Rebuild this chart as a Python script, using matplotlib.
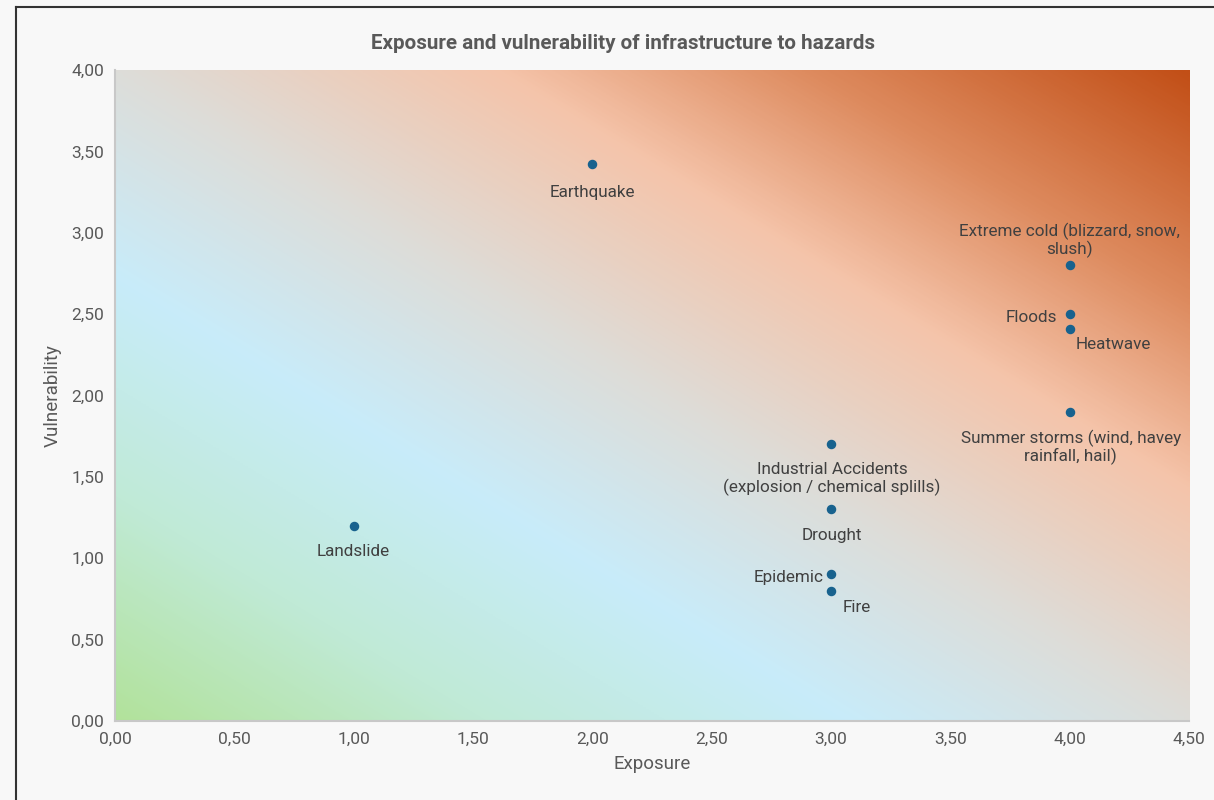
import numpy as np
import matplotlib.pyplot as plt
from matplotlib.colors import LinearSegmentedColormap
from matplotlib.lines import Line2D

plt.rcParams['font.family'] = ['Roboto', 'DejaVu Sans']

# data
hazards = ['Landslide', 'Earthquake', 'Extreme cold (blizzard, snow,\nslush)', 'Floods',
           'Heatwave', 'Summer storms (wind, havey\nrainfall, hail)',
           'Industrial Accidents\n(explosion / chemical splills)', 'Drought', 'Epidemic', 'Fire']
exposure = [1.0, 2.0, 4.0, 4.0, 4.0, 4.0, 3.0, 3.0, 3.0, 3.0]
vulnerability = [1.2, 3.42, 2.8, 2.5, 2.41, 1.9, 1.7, 1.3, 0.9, 0.8]

x_ticks = [0, 0.5, 1, 1.5, 2, 2.5, 3, 3.5, 4, 4.5]
y_ticks = [0, 0.5, 1, 1.5, 2, 2.5, 3, 3.5, 4]

# label placement: (dx px, dy px, ha, va)
label_pos = {
    'Landslide': (0, -18, 'center', 'top'),
    'Earthquake': (0, -21, 'center', 'top'),
    'Extreme cold (blizzard, snow,\nslush)': (0, 7, 'center', 'bottom'),
    'Floods': (-13, -3, 'right', 'center'),
    'Heatwave': (6, -16, 'left', 'center'),
    'Summer storms (wind, havey\nrainfall, hail)': (1, -18, 'center', 'top'),
    'Industrial Accidents\n(explosion / chemical splills)': (1, -18, 'center', 'top'),
    'Drought': (1, -19, 'center', 'top'),
    'Epidemic': (-7, -3, 'right', 'center'),
    'Fire': (12, -17, 'left', 'center'),
}

txt = '#595959'

fig = plt.figure(figsize=(12.14, 8), dpi=100, facecolor='#f8f8f8')
ax = fig.add_axes([0.0947, 0.0988, 0.8847, 0.8137])
ax.set_facecolor('#f8f8f8')

# diagonal gradient background
cmap = LinearSegmentedColormap.from_list('bg', [
    (0.0, '#b2e29b'),
    (0.17, '#c0ead6'),
    (0.34, '#c8ecfa'),
    (0.5, '#ddddd9'),
    (0.68, '#f5c4aa'),
    (0.82, '#de8c60'),
    (1.0, '#c24f17'),
])
u = np.linspace(0, 1, 400)
v = np.linspace(0, 1, 400)
U, V = np.meshgrid(u, v)
ax.imshow((U + V) / 2, cmap=cmap, extent=[0, 4.5, 0, 4], origin='lower',
          aspect='auto', zorder=0, interpolation='bilinear')

ax.scatter(exposure, vulnerability, s=34, color='#18628e', zorder=3)

for name, xv, yv in zip(hazards, exposure, vulnerability):
    dx, dy, ha, va = label_pos[name]
    ax.annotate(name, (xv, yv), xytext=(dx, dy), textcoords='offset pixels',
                ha=ha, va=va, fontsize=12.3, color='#404040', linespacing=1.08,
                multialignment='center', zorder=4)

ax.set_xlim(0, 4.5)
ax.set_ylim(0, 4)
ax.set_xticks(x_ticks)
ax.set_yticks(y_ticks)
ax.set_xticklabels([f'{t:.2f}'.replace('.', ',') for t in x_ticks], fontsize=12.5, color=txt)
ax.set_yticklabels([f'{t:.2f}'.replace('.', ',') for t in y_ticks], fontsize=12.5, color=txt)
ax.tick_params(length=0, pad=8)

for s in ['top', 'right']:
    ax.spines[s].set_visible(False)
for s in ['left', 'bottom']:
    ax.spines[s].set_color('#c8c8c8')
    ax.spines[s].set_linewidth(1.5)

ax.set_xlabel('Exposure', fontsize=13.5, color=txt, labelpad=6)
ax.set_ylabel('Vulnerability', fontsize=13.5, color=txt, labelpad=7)
fig.text(0.513, 0.946, 'Exposure and vulnerability of infrastructure to hazards',
         fontsize=14.9, fontweight='bold', color=txt, ha='center', va='center')

# screenshot frame edges
fig.add_artist(Line2D([0.0128, 0.0128], [0, 0.991], transform=fig.transFigure, color='#333333', lw=1.5))
fig.add_artist(Line2D([0.0128, 1], [0.991, 0.991], transform=fig.transFigure, color='#333333', lw=1.5))

fig.savefig('out.png', dpi=100, facecolor=fig.get_facecolor())
plt.close()
